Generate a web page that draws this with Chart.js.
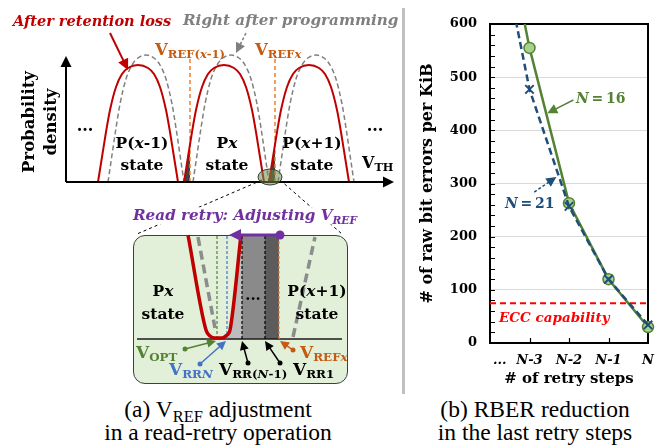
<!DOCTYPE html>
<html>
<head>
<meta charset="utf-8">
<script src="https://cdn.jsdelivr.net/npm/chart.js@4.4.1/dist/chart.umd.min.js"></script>
<style>
html, body { margin: 0; padding: 0; background: #fff; }
#page { position: relative; width: 660px; height: 447px; overflow: hidden; }
canvas { position: absolute; }
.t { position: absolute; font-family: 'DejaVu Serif', serif; font-weight: bold; white-space: nowrap; line-height: 1; z-index: 5; }
.i { font-style: italic; }
.t sub, .cap sub { font-size: 70%; vertical-align: -0.3em; line-height: 0; }
.cc { transform: translate(-50%, -50%); text-align: center; }
.lc { transform: translateY(-50%); }
.cap { position: absolute; font-family: 'Liberation Serif', 'Times New Roman', serif; font-size: 23.5px; line-height: 23px; text-align: center; white-space: nowrap; transform: translateX(-50%); }
#inset { position: absolute; left: 133px; top: 235px; width: 215px; height: 149px; box-sizing: border-box; border: 1.5px solid #3f3f3f; border-radius: 12px; background: #e2f0d9; z-index: 1; }
#insetChart { z-index: 2; }
#sep { position: absolute; left: 402px; top: 8px; width: 3px; height: 386px; background: #c0c0c0; }
</style>
</head>
<body>
<div id="page">
  <canvas id="diagram" width="400" height="395" style="left:0;top:0;width:400px;height:395px"></canvas>
  <div id="inset"></div>
  <canvas id="insetChart" width="215" height="162" style="left:133px;top:222px;width:215px;height:162px"></canvas>
  <div id="sep"></div>
  <canvas id="rber" width="255" height="395" style="left:405px;top:0;width:255px;height:395px"></canvas>

  <!-- texte du schéma (a) -->
  <div class="t i lc" style="left:13px;top:21px;font-size:14.5px;color:#c00000">After retention loss</div>
  <div class="t i lc" style="left:183px;top:21px;font-size:15.2px;color:#808080">Right after programming</div>
  <div class="t" style="left:40px;top:122px;font-size:16.5px;line-height:22px;text-align:center;transform:translate(-50%,-50%) rotate(-90deg)">Probability<br>density</div>
  <div class="t cc" style="left:85px;top:126px;font-size:16px">...</div>
  <div class="t cc" style="left:375px;top:126px;font-size:16px">...</div>
  <div class="t cc" style="left:142px;top:154px;font-size:15.5px;line-height:22px">P(<i>x</i>-1)<br>state</div>
  <div class="t cc" style="left:227px;top:154px;font-size:15.5px;line-height:22px">P<i>x</i><br>state</div>
  <div class="t cc" style="left:312px;top:154px;font-size:15.5px;line-height:22px">P(<i>x</i>+1)<br>state</div>
  <div class="t lc" style="left:362px;top:163px;font-size:16px">V<sub>TH</sub></div>
  <div class="t lc" style="left:155px;top:50px;font-size:16.5px;color:#c55a11">V<sub>REF(<i>x</i>-1)</sub></div>
  <div class="t lc" style="left:255px;top:50px;font-size:16.5px;color:#c55a11">V<sub>REF<i>x</i></sub></div>

  <div class="t i lc" style="left:131px;top:216px;font-size:15.2px;color:#7030a0;background:#fff;padding:1px 2px">Read retry: Adjusting V<sub>REF</sub></div>
  <div class="t cc" style="left:163px;top:302px;font-size:15.5px;line-height:23px">P<i>x</i><br>state</div>
  <div class="t cc" style="left:317px;top:302px;font-size:15.5px;line-height:23px">P(<i>x</i>+1)<br>state</div>
  <div class="t cc" style="left:253px;top:295px;font-size:15px">...</div>
  <div class="t lc" style="left:136px;top:352px;font-size:17px;color:#548235">V<sub>OPT</sub></div>
  <div class="t lc" style="left:169px;top:369px;font-size:17px;color:#4472c4">V<sub>RR<i>N</i></sub></div>
  <div class="t lc" style="left:219px;top:369px;font-size:17px;color:#000">V<sub>RR(<i>N</i>-1)</sub></div>
  <div class="t lc" style="left:293px;top:369px;font-size:17px;color:#000">V<sub>RR1</sub></div>
  <div class="t lc" style="left:300px;top:352px;font-size:17px;color:#c55a11">V<sub>REF<i>x</i></sub></div>

  <!-- texte du graphique (b) -->
  <div class="t lc" style="left:576px;top:98px;font-size:14px;color:#548235"><i>N</i>&thinsp;=&thinsp;16</div>
  <div class="t lc" style="left:505px;top:203px;font-size:14px;color:#1f4e79"><i>N</i>&thinsp;=&thinsp;21</div>
  <div class="t i lc" style="left:499px;top:318px;font-size:13.5px;color:#ff0000">ECC capability</div>

  <div class="cap" style="left:218px;top:398px">(a) V<sub>REF</sub> adjustment<br>in a read-retry operation</div>
  <div class="cap" style="left:535px;top:398px">(b) RBER reduction<br>in the last retry steps</div>
</div>

<script>
// --- DONNÉES DU GRAPHIQUE (b) ---
const retrySteps = ['\u2003\u2002...', 'N-3', 'N-2', 'N-1', 'N'];
const rawErrorsN16 = [930, 555, 263, 120, 30];
const rawErrorsN21 = [850, 477, 257, 120, 34];
const eccCapability = [75, 75, 75, 75, 75];
const errorMax = 600;
const errorStep = 100;
const minorStep = 20;

// --- DONNÉES DU SCHÉMA (a) : [V_TH, densité] ---
const afterLossPrev = [[98,0],[102,25],[106,50],[110,72],[116,95],[122,108],[128,114],[138,117],[148,114],[154,108],[160,95],[166,72],[170,50],[174,25],[178,0]];
const afterLossCur  = [[184,0],[188,25],[192,50],[196,72],[202,95],[208,108],[214,114],[224,117],[234,114],[240,108],[246,95],[252,72],[256,50],[260,25],[264,0]];
const afterLossNext = [[269,0],[273,25],[277,50],[281,72],[287,95],[293,108],[299,114],[309,117],[319,114],[325,108],[331,95],[337,72],[341,50],[345,25],[349,0]];
const programmedPrev = [[108,0],[112,27],[116,54],[120,78],[126,103],[132,117],[138,124],[146,127],[154,124],[160,117],[166,103],[172,78],[176,54],[180,27],[184,0]];
const programmedCur  = [[193,0],[197,27],[201,54],[205,78],[211,103],[217,117],[223,124],[231,127],[239,124],[245,117],[251,103],[257,78],[261,54],[265,27],[269,0]];
const programmedNext = [[278,0],[282,27],[286,54],[290,78],[296,103],[302,117],[308,124],[316,127],[324,124],[330,117],[336,103],[342,78],[346,54],[350,27],[354,0]];
const errorTailPrev = [[184,0],[188,25],[190,37]];
const errorTailNext = [[269,0],[273,25],[275,37]];
const vrefPositions = [190, 275];

// --- DONNÉES DE L'ENCART ---
const insetAfterLoss = [[55,104],[73,9],[77,3],[82,1],[89,1],[94,4],[97,9],[108,104]];
const insetProgLeft = [[65,102],[82,11]];
const insetProgRight = [[160,2],[182,102]];
const retryVoltages = [84, 94, 109, 132, 146];   // V_OPT, V_RRN, V_RR(N-1), V_RR1, V_REFx
const retryColors = ['#548235', '#4472c4', '#000000', '#000000', '#ed7d31'];

function pts(arr) { return arr.map(p => ({ x: p[0], y: p[1] })); }

function line(arr, color, width, dash, order, extra) {
    return Object.assign({
        data: pts(arr), showLine: true, borderColor: color, borderWidth: width,
        borderDash: dash || [], pointRadius: 0, fill: false, tension: 0, order: order
    }, extra || {});
}

function arrow(ctx, x1, y1, x2, y2, o) {
    const ang = Math.atan2(y2 - y1, x2 - x1);
    const hl = o.head || 9, hw = o.headW || hl * 0.5;
    const c = Math.cos(ang), s = Math.sin(ang);
    ctx.save();
    ctx.strokeStyle = o.color; ctx.fillStyle = o.color;
    ctx.lineWidth = o.width || 1.5;
    ctx.setLineDash(o.dash || []);
    ctx.beginPath(); ctx.moveTo(x1, y1); ctx.lineTo(x2 - c * hl * 0.8, y2 - s * hl * 0.8); ctx.stroke();
    ctx.setLineDash([]);
    ctx.beginPath();
    ctx.moveTo(x2, y2);
    ctx.lineTo(x2 - c * hl + s * hw, y2 - s * hl - c * hw);
    ctx.lineTo(x2 - c * hl - s * hw, y2 - s * hl + c * hw);
    ctx.closePath(); ctx.fill();
    if (o.dot) { ctx.beginPath(); ctx.arc(x1, y1, o.dot, 0, Math.PI * 2); ctx.fill(); }
    ctx.restore();
}

function drawArrows(chart, list) {
    const { x, y } = chart.scales;
    list.forEach(a => arrow(chart.ctx,
        x.getPixelForValue(a.from[0]), y.getPixelForValue(a.from[1]),
        x.getPixelForValue(a.to[0]), y.getPixelForValue(a.to[1]), a));
}

const noChrome = { legend: { display: false }, tooltip: { enabled: false } };

// --- SCHÉMA (a) ---
const diagramArrows = [
    { from: [66, 0], to: [66, 126], color: '#000', width: 2, head: 11 },
    { from: [66, 0], to: [394, 0], color: '#000', width: 2, head: 11 },
    { from: [110, 149], to: [128, 112], color: '#c00000', width: 2, head: 11 },
    { from: [246, 149], to: [236, 129], color: '#7f7f7f', width: 1.5, head: 10, dash: [3, 2] }
];

const diagramDecor = {
    id: 'diagramDecor',
    afterDatasetsDraw(chart) {
        drawArrows(chart, diagramArrows);
        const { ctx, scales: { x, y } } = chart;
        ctx.save();
        ctx.beginPath();
        ctx.ellipse(x.getPixelForValue(270), y.getPixelForValue(5), 12, 8, 0, 0, Math.PI * 2);
        ctx.fillStyle = 'rgba(110,140,75,0.55)';
        ctx.fill();
        ctx.strokeStyle = '#3a3a3a'; ctx.lineWidth = 1; ctx.stroke();
        ctx.restore();
    }
};

const smooth = { cubicInterpolationMode: 'monotone' };
new Chart(document.getElementById('diagram'), {
    type: 'scatter',
    data: {
        datasets: [
            line(afterLossPrev, '#c00000', 2, [], 1, smooth),
            line(afterLossCur, '#c00000', 2, [], 1, smooth),
            line(afterLossNext, '#c00000', 2, [], 1, smooth),
            line(programmedPrev, '#808080', 1.5, [5, 3], 2, smooth),
            line(programmedCur, '#808080', 1.5, [5, 3], 2, smooth),
            line(programmedNext, '#808080', 1.5, [5, 3], 2, smooth),
            line([[vrefPositions[0], 0], [vrefPositions[0], 124]], '#ed7d31', 1.5, [4, 3], 3),
            line([[vrefPositions[1], 0], [vrefPositions[1], 124]], '#ed7d31', 1.5, [4, 3], 3),
            line(errorTailPrev, 'rgba(0,0,0,0)', 0, [], 4, Object.assign({ fill: 'origin', backgroundColor: '#404040' }, smooth)),
            line(errorTailNext, 'rgba(0,0,0,0)', 0, [], 4, Object.assign({ fill: 'origin', backgroundColor: '#404040' }, smooth)),
            line([[262, 2], [137, -52]], '#000', 1, [3, 3], 5),
            line([[280, 2], [342, -52]], '#000', 1, [3, 3], 5)
        ]
    },
    options: {
        responsive: false, animation: false,
        layout: { padding: 0 },
        plugins: noChrome,
        scales: {
            x: { type: 'linear', min: 0, max: 400, display: false },
            y: { type: 'linear', min: -213, max: 182, display: false }
        }
    },
    plugins: [diagramDecor]
});

// --- ENCART : lecture répétée ---
const insetArrows = [
    { from: [147, 104], to: [96, 104], color: '#7030a0', width: 3, head: 12, headW: 6, dot: 4.5 },
    { from: [52, -10], to: [83, -2], color: '#548235', width: 1.5, head: 9, dot: 2.5 },
    { from: [67, -25], to: [93, -2], color: '#4472c4', width: 1.5, head: 9, dot: 2.5 },
    { from: [115, -24], to: [109, -2], color: '#000', width: 1.5, head: 9, dot: 2.5 },
    { from: [147, -24], to: [132, -2], color: '#000', width: 1.5, head: 9, dot: 2.5 },
    { from: [160, -11], to: [147, -2], color: '#c55a11', width: 1.5, head: 9, dot: 2.5 }
];

const insetDatasets = [
    line(insetAfterLoss, '#c00000', 3.5, [], 1, smooth)
];
retryVoltages.forEach((v, i) => {
    insetDatasets.push(line([[v, 0], [v, 104]], retryColors[i], 1.2, [3, 2], 2));
});
insetDatasets.push(
    line(insetProgLeft, '#8c8c8c', 3.5, [9, 5], 3),
    line(insetProgRight, '#8c8c8c', 3.5, [9, 5], 3),
    line([[4, 0], [209, 0]], '#1a1a1a', 1.5, [], 4),
    line([[94, 0], [97, 9], [108, 104], [retryVoltages[2], 104]], 'rgba(0,0,0,0)', 0, [], 5, { fill: 'origin', backgroundColor: '#bdbdbd' }),
    line([[retryVoltages[2], 104], [retryVoltages[3], 104]], 'rgba(0,0,0,0)', 0, [], 5, { fill: 'origin', backgroundColor: '#8a8a8a' }),
    line([[retryVoltages[3], 104], [retryVoltages[4], 104]], 'rgba(0,0,0,0)', 0, [], 5, { fill: 'origin', backgroundColor: '#5c5c5c' })
);

new Chart(document.getElementById('insetChart'), {
    type: 'scatter',
    data: { datasets: insetDatasets },
    options: {
        responsive: false, animation: false,
        layout: { padding: 0 },
        plugins: noChrome,
        scales: {
            x: { type: 'linear', min: 0, max: 215, display: false },
            y: { type: 'linear', min: -45, max: 117, display: false }
        }
    },
    plugins: [{ id: 'insetDecor', afterDatasetsDraw(chart) { drawArrows(chart, insetArrows); } }]
});

// --- GRAPHIQUE (b) : RBER ---
const rberArrows = [
    { from: [2.11, 457], to: [1.45, 432], color: '#548235', width: 1.5, head: 10 },
    { from: [1.12, 284], to: [1.68, 312], color: '#1f4e79', width: 1.5, head: 10, dash: [3, 2] }
];

const rberFrame = {
    id: 'rberFrame',
    beforeDatasetsDraw(chart) {
        const { ctx, chartArea: a, scales: { x, y } } = chart;
        ctx.save();
        ctx.strokeStyle = '#000';
        ctx.lineWidth = 1.2;
        ctx.beginPath();
        for (let v = minorStep; v < errorMax; v += minorStep) {
            const yy = Math.round(y.getPixelForValue(v)) + 0.5;
            ctx.moveTo(a.left, yy); ctx.lineTo(a.left + 5, yy);
        }
        for (let i = 1; i < retrySteps.length - 1; i++) {
            const xx = Math.round(x.getPixelForValue(i)) + 0.5;
            ctx.moveTo(xx, a.bottom); ctx.lineTo(xx, a.bottom - 5);
        }
        ctx.stroke();
        ctx.lineWidth = 2;
        ctx.strokeRect(a.left, a.top, a.right - a.left, a.bottom - a.top);
        ctx.restore();
    },
    afterDatasetsDraw(chart) { drawArrows(chart, rberArrows); }
};

const serifBold = { family: "'DejaVu Serif', serif", weight: 'bold' };

new Chart(document.getElementById('rber'), {
    type: 'line',
    data: {
        labels: retrySteps,
        datasets: [
            {
                label: 'N = 21', data: rawErrorsN21, order: 1,
                borderColor: '#1f4e79', borderWidth: 2.5, borderDash: [7, 4],
                pointStyle: 'crossRot', pointRadius: [0, 6, 6, 6, 6], pointBorderWidth: 2,
                pointBorderColor: '#1f4e79', tension: 0, clip: { left: 0, top: 0, right: 10, bottom: 10 }
            },
            {
                label: 'N = 16', data: rawErrorsN16, order: 2,
                borderColor: '#548235', borderWidth: 2.5,
                pointRadius: [0, 5.5, 5.5, 5.5, 5.5], pointBackgroundColor: '#a9d18e',
                pointBorderColor: '#548235', pointBorderWidth: 1.5,
                tension: 0, clip: { left: 0, top: 0, right: 10, bottom: 10 }
            },
            {
                label: 'ECC capability', data: eccCapability, order: 3,
                borderColor: '#ff0000', borderWidth: 2, borderDash: [6, 4], pointRadius: 0
            }
        ]
    },
    options: {
        responsive: false, animation: false,
        layout: { padding: { left: 0, top: 24, right: 12, bottom: 0 } },
        plugins: noChrome,
        scales: {
            x: {
                afterFit: s => { s.height = 52; },
                grid: { display: false },
                border: { display: false },
                ticks: { autoSkip: false, maxRotation: 0, padding: 2, color: '#000',
                         font: Object.assign({ size: 13, style: 'italic' }, serifBold) },
                title: { display: true, text: '# of retry steps', color: '#000',
                         font: Object.assign({ size: 15 }, serifBold), padding: { top: 0, bottom: 7 } }
            },
            y: {
                min: 0, max: errorMax,
                afterFit: s => { s.width = 85; },
                grid: { color: '#d9d9d9', lineWidth: 1, drawTicks: false },
                border: { display: false },
                ticks: { stepSize: errorStep, padding: 13, color: '#000',
                         font: Object.assign({ size: 13 }, serifBold) },
                title: { display: true, text: '# of raw bit errors per KiB', color: '#000',
                         font: Object.assign({ size: 16 }, serifBold), padding: { top: 13, bottom: 0 } }
            }
        }
    },
    plugins: [rberFrame]
});
</script>
</body>
</html>
